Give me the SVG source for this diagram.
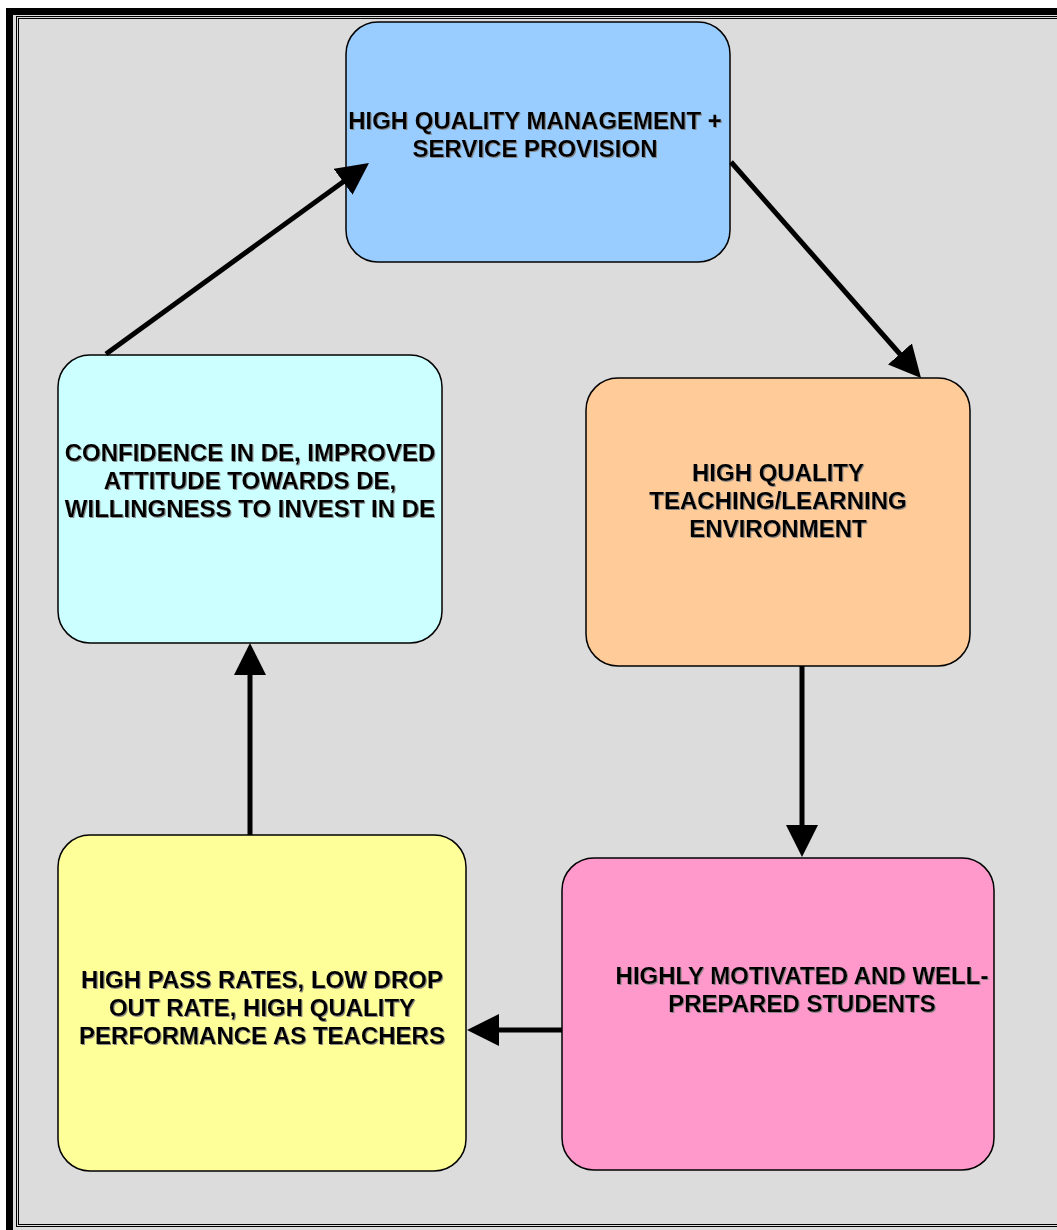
<svg xmlns="http://www.w3.org/2000/svg" width="1057" height="1230" viewBox="0 0 1057 1230">
  <defs>
    <!-- arrowhead: tip sits 10px beyond the line end so the butt cap stays hidden -->
    <marker id="head" viewBox="0 0 32 32" refX="22" refY="16" markerWidth="32" markerHeight="32" markerUnits="userSpaceOnUse" orient="auto">
      <path d="M0,0 L32,16 L0,32 Z" fill="#000"/>
    </marker>
    <filter id="shadow" x="-5%" y="-20%" width="110%" height="140%">
      <feDropShadow dx="1" dy="1" stdDeviation="0.4" flood-color="#808080" flood-opacity="0.9"/>
    </filter>
  </defs>
  <style>
    .box { stroke: #000; stroke-width: 1.5; }
    .lbl { font-family: "Liberation Sans", Arial, sans-serif; font-weight: bold; font-size: 24px; fill: #000; text-anchor: middle; filter: url(#shadow); }
    .conn { stroke: #000; stroke-width: 5; fill: none; marker-end: url(#head); }
  </style>

  <!-- frame -->
  <rect x="0" y="0" width="1057" height="1230" fill="#fff"/>
  <rect x="9.5" y="11.5" width="1060" height="1230" fill="#dcdcdc" stroke="#000" stroke-width="7"/>
  <rect x="16.5" y="16.5" width="1050" height="1210" fill="none" stroke="#000" stroke-width="1"/>
  <rect x="18.5" y="18.5" width="1046" height="1206" fill="none" stroke="#000" stroke-width="1"/>

  <g id="management">
    <rect class="box" x="346" y="22" width="384" height="240" rx="32" fill="#99ccff"/>
    <text class="lbl" x="535" y="129">HIGH QUALITY MANAGEMENT +</text>
    <text class="lbl" x="535" y="157">SERVICE PROVISION</text>
  </g>

  <g id="environment">
    <rect class="box" x="586" y="378" width="384" height="288" rx="32" fill="#ffcc99"/>
    <text class="lbl" x="778" y="481">HIGH QUALITY</text>
    <text class="lbl" x="778" y="509">TEACHING/LEARNING</text>
    <text class="lbl" x="778" y="537">ENVIRONMENT</text>
  </g>

  <g id="students">
    <rect class="box" x="562" y="858" width="432" height="312" rx="32" fill="#ff99cc"/>
    <text class="lbl" x="802" y="984">HIGHLY MOTIVATED AND WELL-</text>
    <text class="lbl" x="802" y="1012">PREPARED STUDENTS</text>
  </g>

  <g id="outcomes">
    <rect class="box" x="58" y="835" width="408" height="336" rx="32" fill="#ffff99"/>
    <text class="lbl" x="262" y="988">HIGH PASS RATES, LOW DROP</text>
    <text class="lbl" x="262" y="1016">OUT RATE, HIGH QUALITY</text>
    <text class="lbl" x="262" y="1044">PERFORMANCE AS TEACHERS</text>
  </g>

  <g id="confidence">
    <rect class="box" x="58" y="355" width="384" height="288" rx="32" fill="#ccffff"/>
    <text class="lbl" x="250" y="461">CONFIDENCE IN DE, IMPROVED</text>
    <text class="lbl" x="250" y="489">ATTITUDE TOWARDS DE,</text>
    <text class="lbl" x="250" y="517">WILLINGNESS TO INVEST IN DE</text>
  </g>

  <!-- connectors, drawn over the boxes -->
  <g id="connectors">
    <line class="conn" x1="106" y1="354" x2="360.9" y2="168.9"/>
    <line class="conn" x1="731" y1="162" x2="914.4" y2="370.5"/>
    <line class="conn" x1="802" y1="666" x2="802" y2="847"/>
    <line class="conn" x1="562" y1="1030" x2="477" y2="1030"/>
    <line class="conn" x1="250" y1="835" x2="250" y2="653"/>
  </g>
</svg>
